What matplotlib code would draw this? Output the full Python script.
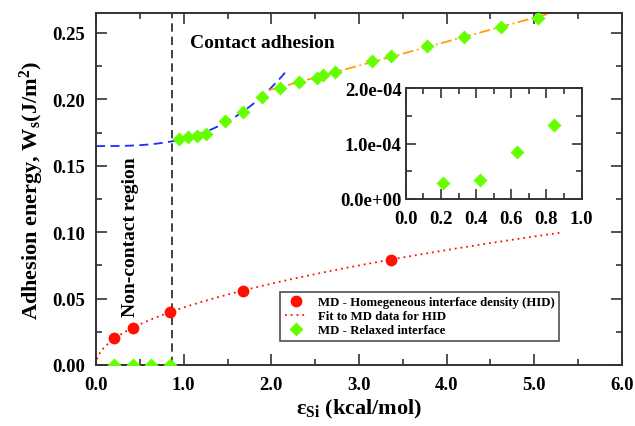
import numpy as np
import matplotlib
matplotlib.use("Agg")
import matplotlib.pyplot as plt
from matplotlib.lines import Line2D
from matplotlib.ticker import MultipleLocator

plt.rcParams['font.family'] = ['Liberation Serif', 'DejaVu Serif']
plt.rcParams['font.weight'] = 'bold'
plt.rcParams['mathtext.fontset'] = 'custom'
plt.rcParams['mathtext.rm'] = 'Liberation Serif:bold'
plt.rcParams['mathtext.it'] = 'Liberation Serif:bold'
plt.rcParams['mathtext.bf'] = 'Liberation Serif:bold'

# ---- data ----
hid_eps = [0.21, 0.42, 0.84, 1.68, 3.36]
hid_w = [0.0201, 0.0281, 0.0401, 0.0557, 0.0793]

relax_eps_low = [0.21, 0.42, 0.63, 0.84]
relax_w_low = [2.8e-5, 3.4e-5, 8.4e-5, 1.34e-4]

relax_eps = [0.945, 1.05, 1.155, 1.26, 1.47, 1.68, 1.89, 2.10, 2.31, 2.52,
             2.59, 2.73, 3.15, 3.36, 3.78, 4.20, 4.62, 5.04]
relax_w = [0.170, 0.172, 0.1727, 0.174, 0.1835, 0.1908, 0.202, 0.2083, 0.2129, 0.2164,
           0.218, 0.2203, 0.2289, 0.2327, 0.2404, 0.2472, 0.2542, 0.2613]

contact_threshold = 0.87

x_ticks = [0, 1, 2, 3, 4, 5, 6]
x_ticklabels = ['0.0', '1.0', '2.0', '3.0', '4.0', '5.0', '6.0']
y_ticks = [0, 0.05, 0.10, 0.15, 0.20, 0.25]
y_ticklabels = ['0.00', '0.05', '0.10', '0.15', '0.20', '0.25']
inset_x_ticks = [0, 0.2, 0.4, 0.6, 0.8, 1.0]
inset_x_ticklabels = ['0.0', '0.2', '0.4', '0.6', '0.8', '1.0']
inset_y_ticks = [0, 1e-4, 2e-4]
inset_y_ticklabels = ['0.0e+00', '1.0e-04', '2.0e-04']

legend_labels = ["MD - Homegeneous interface density (HID)",
                 "Fit to MD data for HID",
                 "MD - Relaxed interface"]

# ---- fits ----
hx = np.array(hid_eps); hy = np.array(hid_w)
a_sqrt = np.sum(hy * np.sqrt(hx)) / np.sum(hx)
fit_red_x = np.linspace(0.01, 5.3, 300)
fit_red_y = a_sqrt * np.sqrt(fit_red_x)

rx = np.array(relax_eps); ry = np.array(relax_w)
m1 = (rx > 0.9) & (rx < 2.0)
A = np.vstack([np.ones(m1.sum()), rx[m1] ** 3]).T
c0, c3 = np.linalg.lstsq(A, ry[m1], rcond=None)[0]
fit_blue_x = np.linspace(0.0, 2.18, 200)
fit_blue_y = c0 + c3 * fit_blue_x ** 3

m2 = rx >= 2.09
p_lin = np.polyfit(rx[m2], ry[m2], 1)
fit_or_x = np.linspace(1.97, 5.5, 100)
fit_or_y = np.polyval(p_lin, fit_or_x)

red = '#ff1000'
green = '#66ff00'
tick_fs = 13.5
dia_ms = 7

fig = plt.figure(figsize=(6.35, 4.27), dpi=100)
ax = fig.add_axes([0.1512, 0.1429, 0.8283, 0.8243])

ax.plot(fit_blue_x, fit_blue_y, color='#1a2cff', ls=(0, (5, 3)), lw=1.3, zorder=2)
ax.plot(fit_or_x, fit_or_y, color='#ffa000', ls=(0, (6, 2, 1, 2)), lw=1.3, zorder=2)
ax.plot(fit_red_x, fit_red_y, color=red, ls=(0, (1, 2.2)), lw=1.3, zorder=2)
ax.axvline(contact_threshold, color='#222222', ls=(0, (5, 3)), lw=1.2, zorder=1)

ax.plot(hid_eps, hid_w, 'o', color=red, ms=8.5, mec='none', zorder=4)
ax.plot(relax_eps, relax_w, 'D', color=green, ms=dia_ms, mec='none', zorder=4)
ax.plot(relax_eps_low, relax_w_low, 'D', color=green, ms=dia_ms, mec='none', zorder=4)

ax.set_xlim(0, 6)
ax.set_ylim(0, 0.265)
ax.set_xticks(x_ticks)
ax.set_xticklabels(x_ticklabels)
ax.set_yticks(y_ticks)
ax.set_yticklabels(y_ticklabels)
ax.xaxis.set_minor_locator(MultipleLocator(0.5))
ax.yaxis.set_minor_locator(MultipleLocator(0.025))
ax.tick_params(which='both', direction='in', top=True, right=True, width=1.2,
               color='#333333', labelsize=tick_fs)
ax.tick_params(which='major', length=8, pad=8)
ax.tick_params(which='minor', length=4)
for s in ax.spines.values():
    s.set_linewidth(1.4)
    s.set_color('#333333')

ax.set_xlabel('ε$_{Si}$ (kcal/mol)', fontsize=16, fontweight='bold', labelpad=3)
ax.set_ylabel('Adhesion energy, W$_s$(J/m$^2$)', fontsize=16, fontweight='bold', labelpad=4)

ax.text(1.07, 0.243, 'Contact adhesion', fontsize=14, fontweight='bold', va='center', ha='left')
ax.text(0.39, 0.097, 'Non-contact region', fontsize=14, fontweight='bold',
        rotation=90, va='center', ha='center')

handles = [Line2D([], [], marker='o', ls='none', color=red, ms=8.5, mec='none'),
           Line2D([], [], ls=(0, (1, 2.2)), color=red, lw=1.3),
           Line2D([], [], marker='D', ls='none', color=green, ms=dia_ms, mec='none')]
leg = ax.legend(handles, legend_labels, loc='lower left', bbox_to_anchor=(0.35, 0.069),
                fontsize=9.2, frameon=True, fancybox=False, edgecolor='#222222',
                borderpad=0.35, labelspacing=0.15, handlelength=1.8, handletextpad=0.8,
                borderaxespad=0)
leg.get_frame().set_linewidth(1.2)

# ---- inset ----
ins = fig.add_axes([0.639, 0.532, 0.277, 0.259])
ins.plot(relax_eps_low, relax_w_low, 'D', color=green, ms=dia_ms, mec='none')
ins.set_xlim(0, 1.0)
ins.set_ylim(0, 2e-4)
ins.set_xticks(inset_x_ticks)
ins.set_xticklabels(inset_x_ticklabels)
ins.xaxis.set_minor_locator(MultipleLocator(0.1))
ins.set_yticks(inset_y_ticks)
ins.set_yticklabels(inset_y_ticklabels)
ins.yaxis.set_minor_locator(MultipleLocator(5e-5))
ins.tick_params(which='both', direction='in', top=True, right=True, width=1.2,
                color='#333333', labelsize=tick_fs)
ins.tick_params(axis='x', which='major', length=7, pad=8)
ins.tick_params(axis='y', which='major', length=7, pad=3)
ins.tick_params(which='minor', length=4)
for s in ins.spines.values():
    s.set_linewidth(1.4)
    s.set_color('#333333')

fig.savefig('out.png', dpi=100)
